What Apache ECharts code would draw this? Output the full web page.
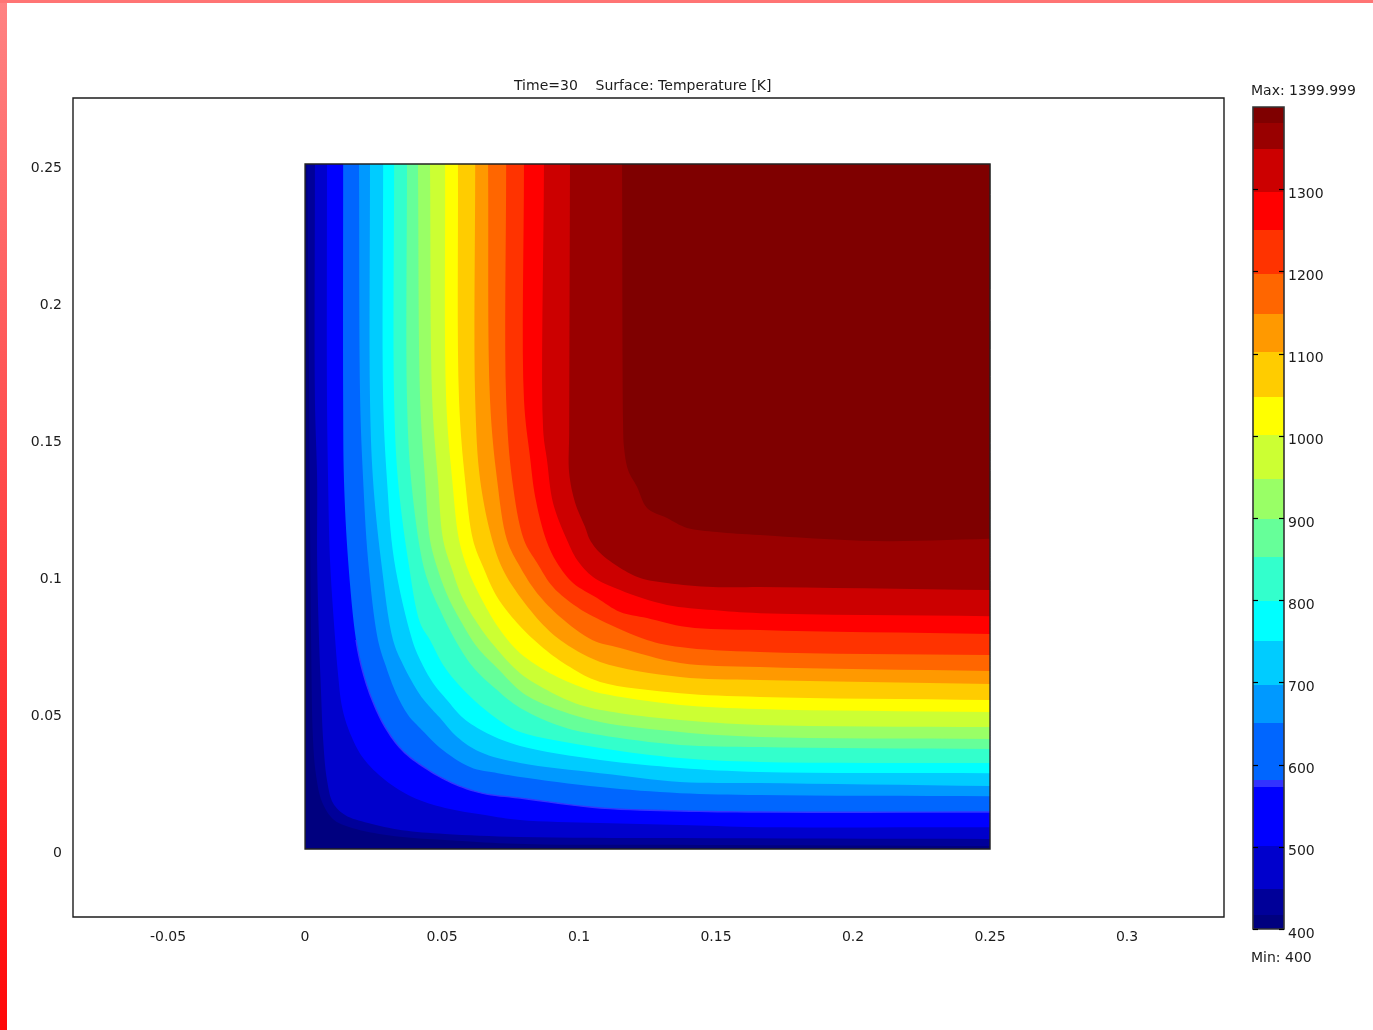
<!DOCTYPE html>
<html>
<head>
<meta charset="utf-8">
<style>html,body{margin:0;padding:0;background:#fff}#c{width:1373px;height:1030px}</style>
<script src="https://cdn.jsdelivr.net/npm/echarts@6/dist/echarts.min.js"></script>
</head>
<body>
<div id="c"></div>
<script>
// Tick labels
const xTicks = [-0.05, 0, 0.05, 0.1, 0.15, 0.2, 0.25, 0.3];
const yTicks = [0, 0.05, 0.1, 0.15, 0.2, 0.25];
const barTicks = [400, 500, 600, 700, 800, 900, 1000, 1100, 1200, 1300];
const titleText = 'Time=30    Surface: Temperature [K]';
const maxText = 'Max: 1399.999';
const minText = 'Min: 400';

// Colour bar: band edges (K) and the colour of each band
const barEdges = [400, 417, 449, 501, 573, 581, 651, 697, 750, 799, 852, 899, 947, 1001, 1047, 1102, 1148, 1197, 1250, 1297, 1349, 1380, 1400];
const barColors = ['#00007f', '#000099', '#0000cc', '#0000ff', '#3333ff', '#0066ff', '#0099ff', '#00ccff', '#00ffff', '#33ffcc', '#66ff99', '#99ff66', '#ccff33', '#ffff00', '#ffcc00', '#ff9900', '#ff6600', '#ff3300', '#ff0000', '#cc0000', '#990000', '#7f0000'];

// Domain: square, in millimetres
const domain = [[0, 0], [250, 0], [250, 250], [0, 250]];

// Isotherms, [x mm, y mm], top edge to right edge
const iso417 = [[0.8,250],[1.5,163.9],[2.2,76.3],[2.9,39.8],[4.0,27.0],[6.2,17.2],[10.6,10.6],[18.6,7.3],[32.9,4.7],[57.3,2.9],[80.3,1.8],[144.2,1.5],[250,1.1]];
const iso449 = [[3.6,250],[3.6,163.9],[4.4,134.7],[4.4,105.5],[5.1,76.3],[5.8,58.0],[6.6,39.8],[8.0,25.2],[10.2,16.8],[14.6,12.4],[23.0,9.5],[35.4,6.9],[51.1,5.5],[78.5,4.4],[136.9,4.0],[250,3.7]];
const iso501 = [[8.0,250],[8.0,163.9],[8.4,134.7],[9.1,105.5],[11.0,76.3],[12.0,64.2],[13.5,51.8],[16.4,42.3],[21.2,33.2],[29.2,25.2],[39.1,19.0],[51.1,15.0],[65.7,12.4],[78.5,10.6],[107.7,9.5],[136.9,8.8],[166.1,8.0],[250,8.0]];
const iso573 = [[13.9,250],[13.9,163.9],[14.2,134.7],[15.7,105.5],[18.6,76.3],[21.2,64.2],[24.5,54.4],[29.2,44.5],[35.4,36.1],[43.8,29.6],[53.7,24.1],[64.6,20.4],[78.5,18.6],[107.7,15.0],[136.9,13.9],[166.1,13.5],[250,13.5]];
const iso651 = [[19.7,250],[20.1,163.9],[21.2,134.7],[23.0,105.5],[26.6,76.3],[29.6,66.4],[33.2,56.9],[37.6,48.9],[42.7,43.4],[49.3,36.9],[60.2,29.9],[70.4,27.7],[78.5,26.3],[107.7,22.6],[136.9,20.4],[166.1,19.7],[250,19.3]];
const iso697 = [[23.7,250],[23.7,163.9],[24.8,134.7],[27.7,105.5],[32.1,76.3],[35.8,67.2],[42.0,56.2],[45.6,51.8],[49.3,47.8],[55.5,40.9],[63.9,35.4],[78.5,31.4],[107.7,27.7],[136.9,24.5],[166.1,24.1],[250,23.0]];
const iso750 = [[28.5,250],[28.5,163.9],[29.9,134.7],[32.5,105.5],[39.1,76.3],[42.0,69.0],[46.7,60.6],[51.8,54.4],[57.7,47.8],[66.4,42.3],[78.5,37.6],[107.7,32.5],[136.9,29.6],[166.1,28.1],[250,27.7]];
const iso799 = [[32.5,250],[32.5,163.9],[33.9,134.7],[37.6,105.5],[42.0,82.5],[45.6,76.3],[50.4,67.2],[55.5,60.6],[62.8,53.3],[72.3,46.0],[78.5,42.7],[107.7,36.9],[136.9,33.2],[166.1,31.8],[250,31.4]];
const iso852 = [[37.2,250],[37.2,163.9],[38.7,134.7],[42.7,105.5],[45.6,95.6],[49.3,87.2],[54.8,76.3],[61.3,66.4],[70.1,58.0],[78.5,51.5],[94.2,44.5],[107.7,41.6],[136.9,38.0],[166.1,37.2],[250,36.5]];
const iso899 = [[41.2,250],[42.0,163.9],[43.8,134.7],[45.6,112.8],[48.5,101.8],[52.2,92.0],[56.6,83.6],[62.8,73.7],[70.1,66.1],[79.6,56.9],[90.5,51.5],[107.7,46.4],[136.9,42.7],[166.1,40.9],[250,40.2]];
const iso947 = [[45.6,250],[46.4,163.9],[48.5,134.7],[50.4,112.8],[53.7,101.8],[57.3,92.0],[62.8,82.5],[69.4,73.7],[78.5,64.2],[88.3,58.0],[100.4,52.6],[115.0,49.6],[136.9,47.1],[166.1,45.3],[250,44.5]];
const iso1001 = [[51.1,250],[51.5,163.9],[53.7,134.7],[56.2,112.8],[59.5,101.8],[64.6,90.9],[71.2,79.9],[78.5,71.5],[89.4,64.2],[101.5,58.8],[107.7,56.9],[136.9,52.6],[166.1,51.1],[250,50.0]];
const iso1047 = [[55.8,250],[56.2,163.9],[58.4,134.7],[61.3,112.8],[65.0,102.9],[70.1,92.0],[77.4,82.5],[86.9,73.4],[96.7,66.4],[107.7,61.0],[136.9,56.9],[166.1,55.5],[250,54.4]];
const iso1102 = [[62.1,250],[62.1,163.9],[63.9,134.7],[68.3,112.8],[72.3,101.8],[78.5,92.0],[86.9,81.8],[93.1,76.3],[107.7,68.3],[136.9,62.8],[166.1,61.7],[250,60.2]];
const iso1148 = [[66.8,250],[67.5,163.9],[70.1,134.7],[73.7,112.8],[78.5,102.9],[84.7,93.4],[93.1,84.7],[104.8,76.3],[115.0,73.4],[136.9,67.9],[166.1,66.4],[250,65.0]];
const iso1197 = [[73.4,250],[73.4,163.9],[75.6,134.7],[79.9,112.8],[84.7,104.4],[90.5,95.6],[99.3,88.3],[107.7,83.6],[124.8,76.3],[136.9,73.7],[166.1,71.9],[250,70.8]];
const iso1250 = [[79.9,250],[79.9,163.9],[82.1,143.1],[84.0,128.5],[88.0,112.8],[92.0,104.4],[97.8,97.1],[106.6,91.6],[115.0,86.5],[124.8,84.3],[139.4,81.0],[166.1,79.9],[250,78.5]];
const iso1297 = [[87.2,250],[86.9,152.9],[88.3,142.0],[90.5,126.3],[95.6,112.8],[99.3,105.5],[105.1,99.3],[115.0,94.5],[132.1,89.1],[148.9,87.2],[166.1,86.1],[250,85.0]];
const iso1349 = [[96.7,250],[96.4,152.9],[96.4,137.2],[98.6,126.3],[102.2,117.5],[104.0,112.8],[107.7,108.0],[115.0,102.6],[122.3,98.9],[132.1,97.1],[148.9,95.6],[166.1,95.6],[250,94.5]];
const iso1380 = [[115.7,250],[116.1,152.9],[116.4,146.7],[117.9,138.3],[121.2,132.1],[124.8,124.5],[132.1,120.8],[139.4,117.2],[150.4,115.7],[166.1,114.6],[208.1,112.4],[250,113.2]];

// Regions painted from coldest to hottest: region above each isotherm
const regions = [
  { line: iso417, color: '#000099' }, { line: iso449, color: '#0000cc' }, { line: iso501, color: '#0000ff' },
  { line: iso573, color: '#0066ff', fringe: '#3333ff' }, { line: iso651, color: '#0099ff' }, { line: iso697, color: '#00ccff' },
  { line: iso750, color: '#00ffff' }, { line: iso799, color: '#33ffcc' }, { line: iso852, color: '#66ff99' },
  { line: iso899, color: '#99ff66' }, { line: iso947, color: '#ccff33' }, { line: iso1001, color: '#ffff00' },
  { line: iso1047, color: '#ffcc00' }, { line: iso1102, color: '#ff9900' }, { line: iso1148, color: '#ff6600' },
  { line: iso1197, color: '#ff3300' }, { line: iso1250, color: '#ff0000' }, { line: iso1297, color: '#cc0000' },
  { line: iso1349, color: '#990000' }, { line: iso1380, color: '#7f0000' }
];

const INK = '#1c1c1c';
const FONT = '"DejaVu Sans", sans-serif';
const SUB = 8;
const chart = echarts.init(document.getElementById('c'), null, { renderer: 'canvas' });

const toData = p => [p[0] / 1000, p[1] / 1000];

// Rounds the drawn isotherm through its read points (centripetal Catmull-Rom)
function curveThrough(pts) {
  const out = [pts[0]];
  const n = pts.length;
  const lerp = (a, b, ta, tb, t) => {
    const u = (t - ta) / (tb - ta);
    return [a[0] + (b[0] - a[0]) * u, a[1] + (b[1] - a[1]) * u];
  };
  const next = (t, a, b) => t + Math.pow(Math.hypot(b[0] - a[0], b[1] - a[1]), 0.5);
  for (let i = 0; i < n - 1; i++) {
    const p1 = pts[i], p2 = pts[i + 1];
    const p0 = i > 0 ? pts[i - 1] : [2 * p1[0] - p2[0], 2 * p1[1] - p2[1]];
    const p3 = i < n - 2 ? pts[i + 2] : [2 * p2[0] - p1[0], 2 * p2[1] - p1[1]];
    const t0 = 0, t1 = next(t0, p0, p1), t2 = next(t1, p1, p2), t3 = next(t2, p2, p3);
    for (let k = 1; k <= SUB; k++) {
      const t = t1 + (t2 - t1) * k / SUB;
      const a1 = lerp(p0, p1, t0, t1, t), a2 = lerp(p1, p2, t1, t2, t), a3 = lerp(p2, p3, t2, t3, t);
      const b1 = lerp(a1, a2, t0, t2, t), b2 = lerp(a2, a3, t1, t3, t);
      out.push(lerp(b1, b2, t1, t2, t));
    }
  }
  return out;
}

function renderRegion(params, api) {
  const i = params.dataIndex;
  if (i === 0) {
    return { type: 'polygon', shape: { points: domain.map(p => api.coord(toData(p))) }, style: { fill: barColors[0] } };
  }
  if (i === regions.length + 1) {
    return { type: 'polygon', shape: { points: domain.map(p => api.coord(toData(p))) }, style: { fill: 'none', stroke: '#222', lineWidth: 1.4 } };
  }
  const r = regions[i - 1];
  const curve = curveThrough(r.line.map(p => api.coord(toData(p))));
  const poly = { type: 'polygon', shape: { points: curve.concat([api.coord(toData([250, 250]))]) }, style: { fill: r.color } };
  if (!r.fringe) return poly;
  return { type: 'group', children: [poly, {
    type: 'polyline',
    shape: { points: curve.slice(4 * SUB) },
    style: { fill: 'none', stroke: r.fringe, lineWidth: 1.4 }
  }] };
}

function renderBand(params, api) {
  const i = params.dataIndex;
  const nb = barColors.length;
  const a0 = api.coord([0, barEdges[0]]), b0 = api.coord([1, barEdges[barEdges.length - 1]]);
  if (i < nb) {
    const a = api.coord([0, barEdges[i]]), b = api.coord([1, barEdges[i + 1]]);
    const top = Math.round(b[1]), bot = Math.round(a[1]);
    return { type: 'rect', shape: { x: a[0], y: top, width: b[0] - a[0], height: bot - top }, style: { fill: barColors[i] } };
  }
  if (i === nb) {
    return { type: 'rect', shape: { x: a0[0], y: b0[1], width: b0[0] - a0[0], height: a0[1] - b0[1] }, style: { fill: 'none', stroke: '#333', lineWidth: 1.6 } };
  }
  const y = Math.round(api.coord([0, barTicks[i - nb - 1]])[1]) + 0.5;
  return { type: 'group', children: [
    { type: 'line', shape: { x1: a0[0], y1: y, x2: a0[0] + 5, y2: y }, style: { stroke: '#000', lineWidth: 1.2 } },
    { type: 'line', shape: { x1: b0[0] - 5, y1: y, x2: b0[0], y2: y }, style: { stroke: '#000', lineWidth: 1.2 } }
  ] };
}

const regionIndex = [];
for (let i = 0; i < regions.length + 2; i++) regionIndex.push([i]);
const bandIndex = [];
for (let i = 0; i < barColors.length + 1 + barTicks.length; i++) bandIndex.push([i]);

const textStyle = { fontFamily: FONT, fontSize: 14, fontWeight: 'normal', color: INK };

chart.setOption({
  animation: false,
  backgroundColor: '#ffffff',
  title: [
    { text: titleText, left: 514, top: 79, padding: 0, textStyle: textStyle },
    { text: maxText, left: 1251, top: 84, padding: 0, textStyle: textStyle },
    { text: minText, left: 1251, top: 951, padding: 0, textStyle: textStyle }
  ],
  grid: [
    { left: 73, top: 98, width: 1151, height: 819, show: true, borderColor: INK, borderWidth: 1.4, backgroundColor: '#fff' },
    { left: 1253, top: 107, width: 31, height: 822, show: false }
  ],
  xAxis: [
    { type: 'value', gridIndex: 0, min: -0.0847, max: 0.3354, splitLine: { show: false }, axisLine: { show: false }, axisTick: { show: false },
      axisLabel: { customValues: xTicks, margin: 13, fontFamily: FONT, fontSize: 14, color: INK, hideOverlap: false } },
    { type: 'value', gridIndex: 1, min: 0, max: 1, show: false }
  ],
  yAxis: [
    { type: 'value', gridIndex: 0, min: -0.0248, max: 0.2741, splitLine: { show: false }, axisLine: { show: false }, axisTick: { show: false },
      axisLabel: { customValues: yTicks, margin: 11, verticalAlign: 'top', lineHeight: 9, fontFamily: FONT, fontSize: 14, color: INK, hideOverlap: false } },
    { type: 'value', gridIndex: 1, position: 'right', min: 400, max: 1400, interval: 100, splitLine: { show: false }, axisLine: { show: false }, axisTick: { show: false },
      axisLabel: { customValues: barTicks, formatter: v => String(v), margin: 4, verticalAlign: 'top', lineHeight: 10, fontFamily: FONT, fontSize: 14, color: INK, hideOverlap: false } }
  ],
  series: [
    { type: 'custom', xAxisIndex: 0, yAxisIndex: 0, coordinateSystem: 'cartesian2d', silent: true, clip: false, renderItem: renderRegion, data: regionIndex, encode: { x: [], y: [] } },
    { type: 'custom', xAxisIndex: 1, yAxisIndex: 1, coordinateSystem: 'cartesian2d', silent: true, clip: false, renderItem: renderBand, data: bandIndex, encode: { x: [], y: [] } }
  ],
  graphic: [
    { type: 'rect', left: 0, top: 0, shape: { width: 7, height: 1030 }, silent: true,
      style: { fill: new echarts.graphic.LinearGradient(0, 0, 0, 1, [{ offset: 0, color: '#ff8282' }, { offset: 0.8, color: '#ff2222' }, { offset: 1, color: '#ff0808' }]) } },
    { type: 'rect', left: 0, top: 0, shape: { width: 1373, height: 3 }, silent: true, style: { fill: '#ff7474' } }
  ]
});
</script>
</body>
</html>
